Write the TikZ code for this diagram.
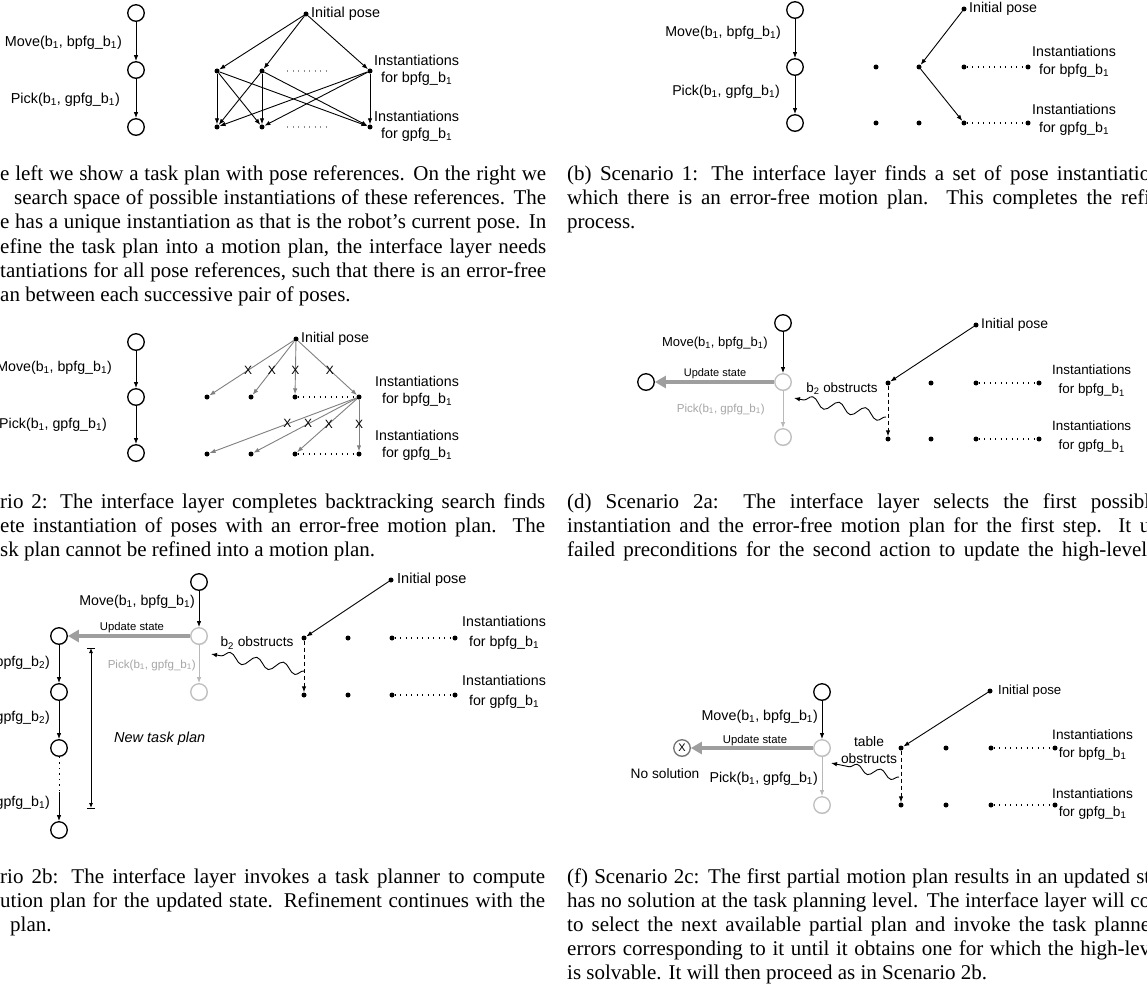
\documentclass[tikz,border=0pt]{standalone}
\usepackage{fontspec}
\setmainfont{Liberation Serif}
\setsansfont{Liberation Sans}
\usetikzlibrary{arrows.meta,decorations.pathmorphing,shadows}
\newcommand\bb[1]{b\textsubscript{#1}}
\newcommand\sz[2]{\fontsize{#1}{#2}\selectfont}

\begin{document}
\begin{tikzpicture}[x=1pt,y=-1pt,
  tstate/.style={circle, draw, line width=1.3pt, minimum size=16.5pt, inner sep=0pt, fill=white,
    drop shadow={shadow xshift=0.4pt, shadow yshift=-1pt, opacity=0.25}},
  faded/.style={tstate, draw=black!25},
  pose/.style={circle, fill=black, inner sep=0pt, minimum size=5pt},
  flow/.style={line width=0.9pt, -{Latex[length=6pt,width=4.5pt]}},
  fadedflow/.style={flow, draw=black!28},
  tried/.style={flow, draw=black!50},
  blocked/.style={flow, dash pattern=on 4pt off 3pt},
  update/.style={line width=4pt, draw=black!38, -{Triangle[length=11pt,width=12pt]}},
  gapdots/.style={line width=1.1pt, dash pattern=on 1.1pt off 4.4pt},
  squiggle/.style={line width=0.9pt, -{Latex[length=6pt,width=4.5pt]}, decorate,
    decoration={snake, amplitude=5pt, segment length=27pt, post length=7pt}},
  lbl/.style={inner sep=0pt},
  inst/.style={inner sep=0pt, align=center, anchor=west},
  xmark/.style={inner sep=0pt, font=\sffamily\sz{12}{12}},
  capline/.style={font=\rmfamily\sz{21}{21}, inner sep=0pt, anchor=base west},
  bar/.style={line width=0.8pt}]

\useasboundingbox (0,0) rectangle (1147,984);
\fill[white] (0,0) rectangle (1147,984);
\clip (0,0) rectangle (1147,984);

% ---------------- (a) search space ----------------
\begin{scope}[font=\sffamily\sz{14.4}{17}]
  \node[tstate] (a1) at (136,13) {};
  \node[tstate] (a2) at (136,70) {};
  \node[tstate] (a3) at (136,127) {};
  \draw[flow] (a1) -- (a2);
  \draw[flow] (a2) -- (a3);
  \node[lbl, anchor=east] (aMove) at (122,43) {Move(\bb1, bpfg\_\bb1)};
  \node[lbl, anchor=east] (aPick) at (120,100) {Pick(\bb1, gpfg\_\bb1)};
  \node[pose] (aI) at (306,14) {};
  \node[lbl, anchor=west] (aIL) at (311,14) {Initial pose};
  \node[pose] (aP1) at (217,71) {};
  \node[pose] (aP2) at (262,71) {};
  \node[pose] (aP3) at (370,71) {};
  \node[pose] (aG1) at (217,127) {};
  \node[pose] (aG2) at (262,127) {};
  \node[pose] (aG3) at (370,127) {};
  \coordinate (aD1) at (287,71); \coordinate (aD2) at (328,71);
  \coordinate (aD3) at (287,127); \coordinate (aD4) at (328,127);
  \draw[gapdots, draw=black!45] (aD1) -- (aD2);
  \draw[gapdots, draw=black!45] (aD3) -- (aD4);
  \foreach \p in {aP1,aP2,aP3} \draw[flow] (aI) -- (\p);
  \foreach \p in {aP1,aP2,aP3}
    \foreach \g in {aG1,aG2,aG3} \draw[flow] (\p) -- (\g);
  \node[inst] (aInstB) at (374,70) {Instantiations\\for bpfg\_\bb1};
  \node[inst] (aInstG) at (374,126) {Instantiations\\for gpfg\_\bb1};
\end{scope}

% ---------------- (b) scenario 1 ----------------
\begin{scope}[font=\sffamily\sz{14.2}{18}]
  \node[tstate] (b1) at (795,10) {};
  \node[tstate] (b2) at (795,67) {};
  \node[tstate] (b3) at (795,123) {};
  \draw[flow] (b1) -- (b2);
  \draw[flow] (b2) -- (b3);
  \node[lbl, anchor=east] (bMove) at (781,33) {Move(\bb1, bpfg\_\bb1)};
  \node[lbl, anchor=east] (bPick) at (780,92) {Pick(\bb1, gpfg\_\bb1)};
  \node[pose] (bI) at (964,9) {};
  \node[lbl, anchor=west] (bIL) at (969,9) {Initial pose};
  \foreach \x [count=\i] in {876,919,964,1028} {
    \node[pose] (bP\i) at (\x,67) {};
    \node[pose] (bG\i) at (\x,123) {};
  }
  \draw[gapdots] (bP3) -- (bP4);
  \draw[gapdots] (bG3) -- (bG4);
  \draw[flow] (bI) -- (bP2);
  \draw[flow] (bP2) -- (bG3);
  \node[inst] (bInstB) at (1032,62) {Instantiations\\for bpfg\_\bb1};
  \node[inst] (bInstG) at (1032,120) {Instantiations\\for gpfg\_\bb1};
\end{scope}

% ---------------- (c) scenario 2 ----------------
\begin{scope}[font=\sffamily\sz{14.2}{17}]
  \node[tstate] (c1) at (136,342) {};
  \node[tstate] (c2) at (136,397) {};
  \node[tstate] (c3) at (136,453) {};
  \draw[flow] (c1) -- (c2);
  \draw[flow] (c2) -- (c3);
  \node[lbl, anchor=east] (cMove) at (112,368) {Move(\bb1, bpfg\_\bb1)};
  \node[lbl, anchor=east] (cPick) at (107,425) {Pick(\bb1, gpfg\_\bb1)};
  \node[pose] (cI) at (296,339) {};
  \node[lbl, anchor=west] (cIL) at (301,339) {Initial pose};
  \foreach \x [count=\i] in {207,251,295,359} {
    \node[pose] (cP\i) at (\x,397) {};
    \node[pose] (cG\i) at (\x,454) {};
  }
  \draw[gapdots] (cP3) -- (cP4);
  \draw[gapdots] (cG3) -- (cG4);
  \foreach \p in {cP1,cP2,cP3,cP4}
    \draw[tried] (cI) -- node[xmark, pos=.54] {X} (\p);
  \foreach \g in {cG1,cG2,cG3,cG4}
    \draw[tried] (cP4) -- node[xmark, pos=.47] {X} (\g);
  \node[inst] (cInstB) at (375,391) {Instantiations\\for bpfg\_\bb1};
  \node[inst] (cInstG) at (375,445) {Instantiations\\for gpfg\_\bb1};
\end{scope}

% ---------------- (d) scenario 2a ----------------
\begin{scope}[font=\sffamily\sz{13.4}{19}]
  \node[tstate] (dT) at (783,323) {};
  \node[faded] (dM) at (783,382) {};
  \node[faded] (dB) at (783,437) {};
  \node[tstate] (dL) at (646,382) {};
  \draw[flow] (dT) -- (dM);
  \draw[fadedflow] (dM) -- (dB);
  \draw[update] (dM) -- (dL);
  \node[lbl, font=\sffamily\sz{11}{11}] (dUp) at (715,374) {Update state};
  \node[lbl, anchor=east, font=\sffamily\sz{13}{13}] (dMove) at (768,343) {Move(\bb1, bpfg\_\bb1)};
  \node[lbl, anchor=east, text=black!35, font=\sffamily\sz{11.6}{12}] (dPick) at (765,409) {Pick(\bb1, gpfg\_\bb1)};
  \node[lbl] (dObs) at (842,389) {\bb2 obstructs};
  \node[pose] (dI) at (976,325) {};
  \node[lbl, anchor=west, font=\sffamily\sz{14}{14}] (dIL) at (981,325) {Initial pose};
  \foreach \x [count=\i] in {888,931,976,1039} {
    \node[pose] (dP\i) at (\x,383) {};
    \node[pose] (dG\i) at (\x,439) {};
  }
  \draw[gapdots] (dP3) -- (dP4);
  \draw[gapdots] (dG3) -- (dG4);
  \draw[flow] (dI) -- (dP1);
  \draw[blocked] (dP1) -- (dG1);
  \coordinate (dW0) at (886,417);
  \coordinate (dW1) at (794,398);
  \draw[squiggle] (dW0) -- (dW1);
  \node[inst] (dInstB) at (1052,381) {Instantiations\\for bpfg\_\bb1};
  \node[inst] (dInstG) at (1052,437) {Instantiations\\for gpfg\_\bb1};
\end{scope}

% ---------------- (e) scenario 2b ----------------
\begin{scope}[font=\sffamily\sz{14.2}{20}]
  \node[tstate] (eT) at (199,582) {};
  \node[faded] (eM) at (199,636) {};
  \node[faded] (eB) at (199,692) {};
  \node[tstate] (eL1) at (59,636) {};
  \node[tstate] (eL2) at (59,692) {};
  \node[tstate] (eL3) at (59,748) {};
  \node[tstate] (eL4) at (59,830) {};
  \draw[flow] (eT) -- (eM);
  \draw[fadedflow] (eM) -- (eB);
  \draw[update] (eM) -- (eL1);
  \node[lbl, font=\sffamily\sz{11.3}{11}] (eUp) at (132,628) {Update state};
  \node[lbl, anchor=east] (eMove) at (195,602) {Move(\bb1, bpfg\_\bb1)};
  \node[lbl, anchor=east, text=black!35, font=\sffamily\sz{11.6}{12}] (ePick) at (196,665) {Pick(\bb1, gpfg\_\bb1)};
  \draw[flow] (eL1) -- (eL2);
  \draw[flow] (eL2) -- (eL3);
  \coordinate (eC) at (59,792);
  \draw[gapdots, line width=1pt] (eL3) -- (eC);
  \draw[flow] (eC) -- (eL4);
  \node[lbl, anchor=east] (eS1) at (50,663) {bpfg\_\bb2)};
  \node[lbl, anchor=east] (eS2) at (50,718) {gpfg\_\bb2)};
  \node[lbl, anchor=east] (eS3) at (50,803) {gpfg\_\bb1)};
  \coordinate (eMt) at (91,648);
  \coordinate (eMb) at (91,808);
  \draw[bar, {Latex[length=5pt,width=4pt]}-{Latex[length=5pt,width=4pt]}] (eMt) -- (eMb);
  \draw[bar] (eMt) ++(-4,0) -- ++(8,0);
  \draw[bar] (eMb) ++(-4,0) -- ++(8,0);
  \node[lbl, anchor=west, font=\sffamily\itshape\sz{14.5}{15}] (eNew) at (114,739) {New task plan};
  \node[pose] (eI) at (391,580) {};
  \node[lbl, anchor=west, font=\sffamily\sz{14.5}{15}] (eIL) at (397,580) {Initial pose};
  \foreach \x [count=\i] in {304,348,392,455} {
    \node[pose] (eP\i) at (\x,638) {};
    \node[pose] (eG\i) at (\x,695) {};
  }
  \draw[gapdots] (eP3) -- (eP4);
  \draw[gapdots] (eG3) -- (eG4);
  \draw[flow] (eI) -- (eP1);
  \draw[blocked] (eP1) -- (eG1);
  \node[lbl, font=\sffamily\sz{13.7}{14}] (eObs) at (257,643) {\bb2 obstructs};
  \coordinate (eW0) at (304,671);
  \coordinate (eW1) at (211,654);
  \draw[squiggle] (eW0) -- (eW1);
  \node[inst] (eInstB) at (462,633) {Instantiations\\for bpfg\_\bb1};
  \node[inst] (eInstG) at (462,692) {Instantiations\\for gpfg\_\bb1};
\end{scope}

% ---------------- (f) scenario 2c ----------------
\begin{scope}[font=\sffamily\sz{13.7}{18}]
  \node[tstate] (fT) at (822,692) {};
  \node[faded] (fM) at (822,748) {};
  \node[faded] (fB) at (822,805) {};
  \node[tstate, draw=black!55, font=\sffamily\sz{11}{11}] (fX) at (682,748) {X};
  \draw[flow] (fT) -- (fM);
  \draw[fadedflow] (fM) -- (fB);
  \draw[update] (fM) -- (fX);
  \node[lbl, font=\sffamily\sz{11.3}{11}] (fUp) at (755,741) {Update state};
  \node[lbl] (fNo) at (665,774) {No solution};
  \node[lbl, anchor=east, font=\sffamily\sz{14.3}{14}] (fMove) at (818,717) {Move(\bb1, bpfg\_\bb1)};
  \node[lbl, anchor=east, font=\sffamily\sz{14.3}{14}] (fPick) at (818,779) {Pick(\bb1, gpfg\_\bb1)};
  \node[lbl, align=center, font=\sffamily\sz{13.8}{17}] (fObs) at (869,750) {table\\obstructs};
  \node[pose] (fI) at (990,691) {};
  \node[lbl, anchor=west, font=\sffamily\sz{13.2}{13}] (fIL) at (998,691) {Initial pose};
  \foreach \x [count=\i] in {901,946,991,1055} {
    \node[pose] (fP\i) at (\x,748) {};
    \node[pose] (fG\i) at (\x,805) {};
  }
  \draw[gapdots] (fP3) -- (fP4);
  \draw[gapdots] (fG3) -- (fG4);
  \draw[flow] (fI) -- (fP1);
  \draw[blocked] (fP1) -- (fG1);
  \coordinate (fW0) at (899,777);
  \coordinate (fW1) at (831,763);
  \draw[squiggle, decoration={snake, amplitude=4pt, segment length=24pt, post length=7pt}] (fW0) -- (fW1);
  \node[inst] (fInstB) at (1052,745) {Instantiations\\for bpfg\_\bb1};
  \node[inst] (fInstG) at (1052,804) {Instantiations\\for gpfg\_\bb1};
\end{scope}

% ---------------- captions ----------------
\node[capline] (capA1) at (0,181) {\makebox[546pt][s]{e left we show a task plan with pose references. On the right we}};
\node[capline] (capA2) at (14,205) {\makebox[532pt][s]{search space of possible instantiations of these references. The}};
\node[capline] (capA3) at (0,229) {\makebox[546pt][s]{e has a unique instantiation as that is the robot's current pose. In}};
\node[capline] (capA4) at (0,253) {\makebox[546pt][s]{efine the task plan into a motion plan, the interface layer needs}};
\node[capline] (capA5) at (0,277) {\makebox[546pt][s]{tantiations for all pose references, such that there is an error-free}};
\node[capline] (capA6) at (0,301) {an between each successive pair of poses.};

\node[capline] (capB1) at (567,181) {\makebox[583pt][s]{(b) Scenario 1: The interface layer finds a set of pose instantiatio}};
\node[capline] (capB2) at (567,205) {\makebox[583pt][s]{which there is an error-free motion plan. This completes the refi}};
\node[capline] (capB3) at (567,229) {process.};

\node[capline] (capC1) at (0,508) {\makebox[545pt][s]{rio 2: The interface layer completes backtracking search finds}};
\node[capline] (capC2) at (0,532) {\makebox[545pt][s]{ete instantiation of poses with an error-free motion plan. The}};
\node[capline] (capC3) at (0,556) {sk plan cannot be refined into a motion plan.};

\node[capline] (capD1) at (567,508) {\makebox[583pt][s]{(d) Scenario 2a: The interface layer selects the first possibl}};
\node[capline] (capD2) at (567,532) {\makebox[583pt][s]{instantiation and the error-free motion plan for the first step. It u}};
\node[capline] (capD3) at (567,556) {\makebox[580pt][s]{failed preconditions for the second action to update the high-level}};

\node[capline] (capE1) at (0,883) {\makebox[545pt][s]{rio 2b: The interface layer invokes a task planner to compute}};
\node[capline] (capE2) at (0,907) {\makebox[545pt][s]{ution plan for the updated state. Refinement continues with the}};
\node[capline] (capE3) at (10,931) {plan.};

\node[capline] (capF1) at (567,883) {\makebox[583pt][s]{(f) Scenario 2c: The first partial motion plan results in an updated st}};
\node[capline] (capF2) at (567,907) {\makebox[583pt][s]{has no solution at the task planning level. The interface layer will co}};
\node[capline] (capF3) at (567,931) {\makebox[583pt][s]{to select the next available partial plan and invoke the task planne}};
\node[capline] (capF4) at (567,955) {\makebox[583pt][s]{errors corresponding to it until it obtains one for which the high-lev}};
\node[capline] (capF5) at (567,979) {is solvable. It will then proceed as in Scenario 2b.};
\end{tikzpicture}
\end{document}
